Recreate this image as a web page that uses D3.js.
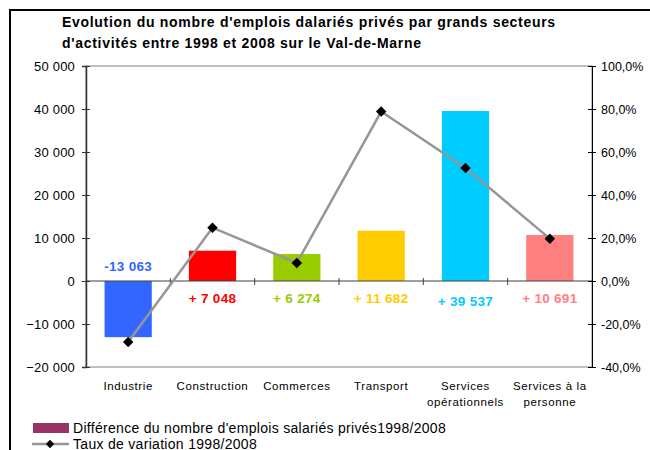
<!DOCTYPE html>
<html>
<head>
<meta charset="utf-8">
<script src="https://cdn.jsdelivr.net/npm/d3@7"></script>
<style>
  body { margin: 0; background: #fff; }
  svg { font-family: "Liberation Sans", Arial, sans-serif; }
</style>
</head>
<body>
<svg width="650" height="450"></svg>
<script>
const width = 650;
const height = 450;

const categories = ["Industrie", "Construction", "Commerces", "Transport", "Services opérationnels", "Services à la personne"];
const catLines = [["Industrie"], ["Construction"], ["Commerces"], ["Transport"], ["Services", "opérationnels"], ["Services à la", "personne"]];
const difference = [-13063, 7048, 6274, 11682, 39537, 10691];
const diffLabels = ["-13 063", "+ 7 048", "+ 6 274", "+ 11 682", "+ 39 537", "+ 10 691"];
const taux = [-28.4, 24.8, 8.4, 78.8, 52.6, 19.7];
const barColors = ["#3366ff", "#ff0000", "#99cc00", "#ffcc00", "#00ccff", "#ff8080"];
const leftTicks = [-20000, -10000, 0, 10000, 20000, 30000, 40000, 50000];
const rightTicks = [-40, -20, 0, 20, 40, 60, 80, 100];

const plot = { left: 86, right: 592, top: 66, bottom: 367 };

const svg = d3.select("svg");

// outer frame
svg.append("rect")
  .attr("x", 10).attr("y", 10)
  .attr("width", 660).attr("height", 460)
  .attr("fill", "none").attr("stroke", "#000").attr("stroke-width", 2);

// title
svg.append("text")
  .attr("x", 62).attr("y", 27)
  .attr("font-size", 14).attr("font-weight", "bold")
  .attr("letter-spacing", 0.7)
  .text("Evolution du nombre d'emplois dalariés privés par grands secteurs");
svg.append("text")
  .attr("x", 62).attr("y", 48)
  .attr("font-size", 14).attr("font-weight", "bold")
  .attr("letter-spacing", 0.7)
  .text("d'activités entre 1998 et 2008 sur le Val-de-Marne");

const x = d3.scaleBand().domain(categories).range([plot.left, plot.right]).paddingInner(0.44).paddingOuter(0.22);
const xb = d3.scaleBand().domain(categories).range([plot.left, plot.right]);
const y = d3.scaleLinear().domain([-20000, 50000]).range([plot.bottom, plot.top]);
const y2 = d3.scaleLinear().domain([-40, 100]).range([plot.bottom, plot.top]);

// plot border
svg.append("rect")
  .attr("x", plot.left).attr("y", plot.top)
  .attr("width", plot.right - plot.left).attr("height", plot.bottom - plot.top)
  .attr("fill", "none").attr("stroke", "#808080").attr("stroke-width", 1);

// bars
svg.append("g")
  .selectAll("rect")
  .data(difference)
  .enter()
  .append("rect")
  .attr("x", (d, i) => x(categories[i]))
  .attr("width", x.bandwidth())
  .attr("y", (d) => y(Math.max(0, d)))
  .attr("height", (d) => Math.abs(y(d) - y(0)))
  .attr("fill", (d, i) => barColors[i]);

// zero line with category ticks
svg.append("line")
  .attr("x1", plot.left).attr("x2", plot.right)
  .attr("y1", y(0)).attr("y2", y(0))
  .attr("stroke", "#404040").attr("stroke-width", 1.2);
svg.append("g")
  .selectAll("line")
  .data(categories.slice(1))
  .enter()
  .append("line")
  .attr("x1", (d) => xb(d)).attr("x2", (d) => xb(d))
  .attr("y1", y(0) - 3).attr("y2", y(0) + 4)
  .attr("stroke", "#404040");

// left axis
const leftAxis = d3.axisLeft(y).tickValues(leftTicks)
  .tickFormat((d) => d3.format(",")(d).replace(/,/g, " "))
  .tickSize(4);
const gl = svg.append("g").attr("transform", `translate(${plot.left},0)`).call(leftAxis);
gl.select(".domain").attr("stroke", "#333").attr("stroke-width", 1.5);
gl.selectAll(".tick line").attr("x2", 4).attr("x1", -4).attr("stroke", "#333");
gl.selectAll(".tick text").attr("x", -11).attr("font-size", 13).attr("letter-spacing", 0.2)
  .attr("font-family", "Liberation Sans, Arial, sans-serif").attr("fill", "#000");

// right axis
const rightAxis = d3.axisRight(y2).tickValues(rightTicks)
  .tickFormat((d) => d.toFixed(1).replace(".", ",") + "%")
  .tickSize(4);
const gr = svg.append("g").attr("transform", `translate(${plot.right},0)`).call(rightAxis);
gr.select(".domain").attr("stroke", "#000").attr("stroke-width", 1);
gr.selectAll(".tick line").attr("x1", -4).attr("x2", 4).attr("stroke", "#000");
gr.selectAll(".tick text").attr("x", 9).attr("font-size", 12.5)
  .attr("font-family", "Liberation Sans, Arial, sans-serif").attr("fill", "#000");

// category labels
const cl = svg.append("g")
  .selectAll("text")
  .data(catLines)
  .enter()
  .append("text")
  .attr("text-anchor", "middle")
  .attr("font-size", 11.5)
  .attr("letter-spacing", 0.6)
  .attr("x", (d, i) => xb(categories[i]) + xb.bandwidth() / 2)
  .attr("y", 390);
cl.selectAll("tspan")
  .data((d) => d)
  .enter()
  .append("tspan")
  .attr("x", function () { return d3.select(this.parentNode).attr("x"); })
  .attr("dy", (d, i) => (i === 0 ? 0 : 16))
  .text((d) => d);

// value labels
svg.append("g")
  .selectAll("text")
  .data(difference)
  .enter()
  .append("text")
  .attr("text-anchor", "middle")
  .attr("font-size", 13.5)
  .attr("font-weight", "bold")
  .attr("letter-spacing", 0.3)
  .attr("fill", (d, i) => barColors[i])
  .attr("x", (d, i) => x(categories[i]) + x.bandwidth() / 2)
  .attr("y", (d, i) => (d < 0 ? y(0) - 10 : y(0) + (i === 4 ? 25 : 22)))
  .text((d, i) => diffLabels[i]);

// line
const line = d3.line()
  .x((d, i) => xb(categories[i]) + xb.bandwidth() / 2)
  .y((d) => y2(d));
svg.append("path")
  .datum(taux)
  .attr("d", line)
  .attr("fill", "none")
  .attr("stroke", "#969696")
  .attr("stroke-width", 2.5);

const diamond = d3.symbol().type(d3.symbolDiamond2).size(70);
svg.append("g")
  .selectAll("path")
  .data(taux)
  .enter()
  .append("path")
  .attr("d", diamond)
  .attr("transform", (d, i) => `translate(${xb(categories[i]) + xb.bandwidth() / 2},${y2(d)})`)
  .attr("fill", "#000");

// legend
svg.append("rect")
  .attr("x", 33).attr("y", 423)
  .attr("width", 36).attr("height", 10)
  .attr("fill", "#993366");
svg.append("text")
  .attr("x", 73).attr("y", 433)
  .attr("font-size", 14)
  .attr("letter-spacing", 0.3)
  .text("Différence du nombre d'emplois salariés privés1998/2008");
svg.append("line")
  .attr("x1", 32).attr("x2", 69)
  .attr("y1", 444).attr("y2", 444)
  .attr("stroke", "#969696").attr("stroke-width", 2.5);
svg.append("path")
  .attr("d", d3.symbol().type(d3.symbolDiamond2).size(45))
  .attr("transform", "translate(50,444)")
  .attr("fill", "#000");
svg.append("text")
  .attr("x", 73).attr("y", 448.5)
  .attr("font-size", 14)
  .attr("letter-spacing", 0.3)
  .text("Taux de variation 1998/2008");
</script>
</body>
</html>
